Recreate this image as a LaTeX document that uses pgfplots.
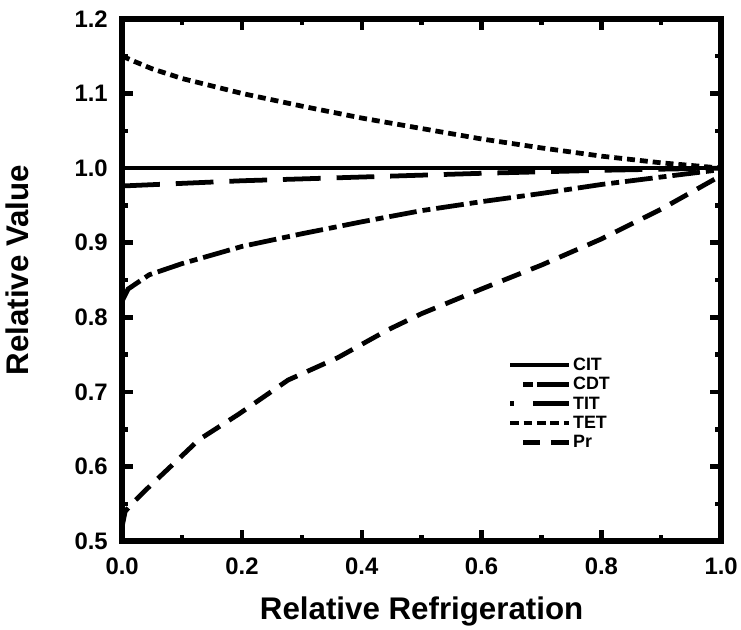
\documentclass[border=0pt]{standalone}
\usepackage{pgfplots}
\pgfplotsset{compat=1.18}
\usepackage{fontspec}
\setmainfont{Liberation Sans}
\begin{document}
\begin{tikzpicture}
\begin{axis}[
  scale only axis, width=603pt, height=526pt,
  clip=false,
  xmin=0, xmax=1, ymin=0.5, ymax=1.2,
  xtick={0,0.2,...,1.0}, ytick={0.5,0.6,...,1.2},
  minor x tick num=1, minor y tick num=1,
  xticklabel style={/pgf/number format/fixed,/pgf/number format/fixed zerofill,/pgf/number format/precision=1, yshift=-13pt},
  yticklabel style={/pgf/number format/fixed,/pgf/number format/fixed zerofill,/pgf/number format/precision=1, xshift=-11pt},
  /pgf/number format/assume math mode=true,
  tick label style={font=\bfseries\fontsize{24}{24}\selectfont},
  tick align=inside, major tick length=11pt, minor tick length=6pt,
  every tick/.style={line width=4.5pt, black},
  axis line style={line width=6.5pt},
  xlabel={Relative Refrigeration}, ylabel={Relative Value},
  label style={font=\bfseries\fontsize{31.5}{31.5}\selectfont},
  xlabel style={yshift=-16pt}, ylabel style={yshift=39pt, xshift=10pt},
  legend style={at={(rel axis cs:0.6434,0.355)}, anchor=north west, draw=none, fill=none, inner sep=0pt,
    font=\bfseries\fontsize{18}{18}\selectfont, row sep=1.5pt,
    /tikz/column 2/.style={column sep=6pt}},
  legend cell align=left,
  legend image code/.code={\draw[#1] (0pt,0pt) -- (59pt,0pt);},
  every axis plot/.append style={line width=4.8pt, black},
]
\path (rel axis cs:-0.204,-0.169) rectangle (rel axis cs:1.025,1.036);
\addplot[solid, forget plot] coordinates {(0,1.0) (1,1.0)};
\addplot[dash pattern=on 28pt off 6pt on 8pt off 6pt, forget plot] coordinates {
(0,0.822) (0.01,0.838) (0.045,0.857) (0.1,0.872) (0.2,0.895) (0.3,0.912) (0.4,0.928) (0.5,0.943) (0.6,0.955) (0.7,0.966) (0.8,0.978) (0.9,0.988) (1.0,0.998)};
\addplot[dash pattern=on 38pt off 16pt, forget plot] coordinates {
(0,0.976) (0.2,0.983) (0.4,0.988) (0.6,0.993) (0.8,0.997) (1.0,1.0)};
\addplot[dash pattern=on 8pt off 5pt, forget plot] coordinates {
(0,1.150) (0.02,1.143) (0.05,1.133) (0.1,1.120) (0.15,1.110) (0.2,1.100) (0.3,1.083) (0.4,1.067) (0.5,1.053) (0.6,1.039) (0.7,1.027) (0.8,1.016) (0.9,1.007) (1.0,1.0)};
\addplot[dash pattern=on 20pt off 11pt, forget plot] coordinates {
(0,0.52) (0.005,0.54) (0.017,0.551) (0.045,0.573) (0.086,0.604) (0.128,0.636) (0.194,0.670) (0.277,0.716) (0.36,0.746) (0.443,0.783) (0.5,0.805) (0.6,0.838) (0.7,0.870) (0.8,0.905) (0.9,0.945) (1.0,0.99)};
\addlegendimage{solid, line width=4.8pt}
\addlegendentry{CIT}
\addlegendimage{dash pattern=on 0pt off 13pt on 10pt off 4pt on 32pt off 20pt, line width=4.8pt}
\addlegendentry{CDT}
\addlegendimage{dash pattern=on 4pt off 19pt on 36pt off 10pt, line width=4.8pt}
\addlegendentry{TIT}
\addlegendimage{dash pattern=on 9pt off 4.5pt, line width=4.8pt}
\addlegendentry{TET}
\addlegendimage{dash pattern=on 0pt off 13pt on 17pt off 11pt on 18pt off 20pt, line width=4.8pt}
\addlegendentry{Pr}
\end{axis}
\end{tikzpicture}
\end{document}
